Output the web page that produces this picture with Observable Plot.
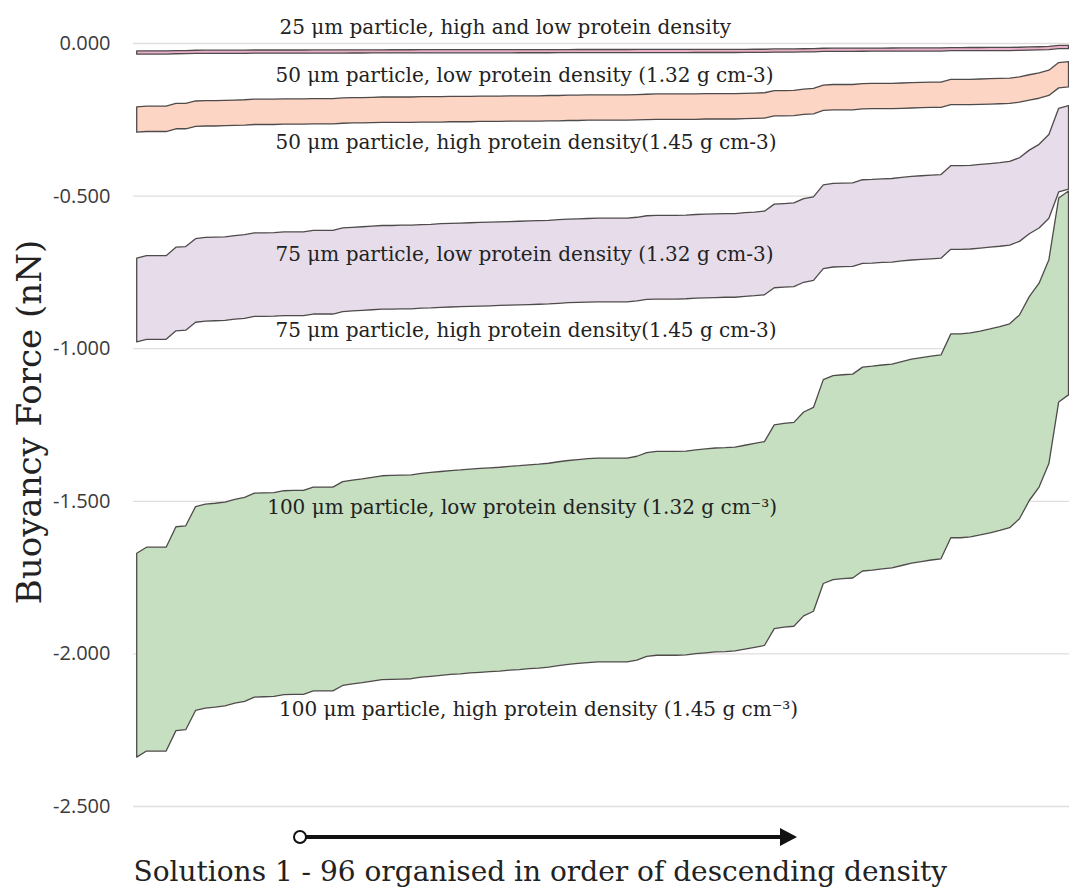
<!DOCTYPE html>
<html><head><meta charset="utf-8">
<script src="https://cdn.jsdelivr.net/npm/d3@7"></script>
<script src="https://cdn.jsdelivr.net/npm/@observablehq/plot@0.6"></script>
<style>
body{margin:0;background:#fff;}
#chart{width:1069px;}
</style></head>
<body><div id="chart"></div>
<script>
// Solutions 1..96 (ordered by descending density)
const solutions = Array.from({length: 96}, (_, k) => k + 1);

// Buoyancy force (nN), low protein density (1.32) and high protein density (1.45)
const low100 = [-1.672,-1.652,-1.652,-1.652,-1.585,-1.582,-1.519,-1.511,-1.508,-1.504,
-1.495,-1.489,-1.475,-1.474,-1.473,-1.467,-1.466,-1.466,-1.455,-1.455,
-1.455,-1.437,-1.432,-1.428,-1.423,-1.418,-1.417,-1.416,-1.415,-1.410,
-1.407,-1.404,-1.401,-1.399,-1.396,-1.394,-1.392,-1.390,-1.387,-1.385,
-1.382,-1.380,-1.377,-1.372,-1.368,-1.365,-1.362,-1.360,-1.360,-1.360,
-1.360,-1.354,-1.342,-1.338,-1.338,-1.338,-1.337,-1.333,-1.330,-1.327,
-1.326,-1.324,-1.318,-1.312,-1.306,-1.251,-1.246,-1.243,-1.209,-1.194,
-1.103,-1.090,-1.087,-1.085,-1.062,-1.059,-1.055,-1.052,-1.044,-1.036,
-1.031,-1.026,-1.022,-0.953,-0.953,-0.950,-0.944,-0.937,-0.929,-0.920,
-0.891,-0.831,-0.787,-0.710,-0.508,-0.485];
const high100 = [-2.340,-2.320,-2.320,-2.320,-2.253,-2.250,-2.187,-2.179,-2.176,-2.172,
-2.163,-2.157,-2.143,-2.142,-2.141,-2.135,-2.134,-2.134,-2.123,-2.123,
-2.123,-2.105,-2.100,-2.096,-2.091,-2.086,-2.085,-2.084,-2.083,-2.078,
-2.075,-2.072,-2.069,-2.067,-2.064,-2.062,-2.060,-2.058,-2.055,-2.053,
-2.050,-2.048,-2.045,-2.040,-2.036,-2.033,-2.030,-2.028,-2.028,-2.028,
-2.028,-2.022,-2.010,-2.006,-2.006,-2.006,-2.005,-2.001,-1.998,-1.995,
-1.994,-1.992,-1.986,-1.980,-1.974,-1.919,-1.914,-1.911,-1.877,-1.862,
-1.771,-1.758,-1.755,-1.753,-1.730,-1.727,-1.723,-1.720,-1.712,-1.704,
-1.699,-1.694,-1.690,-1.621,-1.621,-1.618,-1.612,-1.605,-1.597,-1.588,
-1.559,-1.499,-1.455,-1.378,-1.176,-1.153];
const low75 = [-0.705,-0.697,-0.697,-0.697,-0.669,-0.667,-0.641,-0.637,-0.636,-0.635,
-0.631,-0.628,-0.622,-0.622,-0.621,-0.619,-0.619,-0.619,-0.614,-0.614,
-0.614,-0.606,-0.604,-0.602,-0.600,-0.598,-0.598,-0.597,-0.597,-0.595,
-0.594,-0.592,-0.591,-0.590,-0.589,-0.588,-0.587,-0.586,-0.585,-0.584,
-0.583,-0.582,-0.581,-0.579,-0.577,-0.576,-0.575,-0.574,-0.574,-0.574,
-0.574,-0.571,-0.566,-0.565,-0.565,-0.565,-0.564,-0.562,-0.561,-0.560,
-0.559,-0.559,-0.556,-0.554,-0.551,-0.528,-0.526,-0.524,-0.510,-0.504,
-0.465,-0.460,-0.459,-0.458,-0.448,-0.447,-0.445,-0.444,-0.440,-0.437,
-0.435,-0.433,-0.431,-0.402,-0.402,-0.401,-0.398,-0.395,-0.392,-0.388,
-0.376,-0.351,-0.332,-0.300,-0.214,-0.205];
const high75 = [-0.979,-0.971,-0.971,-0.971,-0.943,-0.941,-0.915,-0.911,-0.910,-0.909,
-0.905,-0.902,-0.896,-0.896,-0.895,-0.893,-0.893,-0.893,-0.888,-0.888,
-0.888,-0.880,-0.878,-0.876,-0.874,-0.872,-0.872,-0.871,-0.871,-0.869,
-0.868,-0.866,-0.865,-0.864,-0.863,-0.862,-0.861,-0.860,-0.859,-0.858,
-0.857,-0.856,-0.855,-0.853,-0.851,-0.850,-0.849,-0.848,-0.848,-0.848,
-0.848,-0.845,-0.840,-0.839,-0.839,-0.839,-0.838,-0.836,-0.835,-0.834,
-0.833,-0.833,-0.830,-0.828,-0.825,-0.802,-0.800,-0.798,-0.784,-0.778,
-0.739,-0.734,-0.733,-0.732,-0.722,-0.721,-0.719,-0.718,-0.714,-0.711,
-0.709,-0.707,-0.705,-0.676,-0.676,-0.675,-0.672,-0.669,-0.666,-0.662,
-0.650,-0.625,-0.606,-0.574,-0.488,-0.479];
const low50 = [-0.209,-0.207,-0.207,-0.207,-0.198,-0.198,-0.190,-0.189,-0.189,-0.188,
-0.187,-0.186,-0.184,-0.184,-0.184,-0.183,-0.183,-0.183,-0.182,-0.182,
-0.182,-0.180,-0.179,-0.179,-0.178,-0.177,-0.177,-0.177,-0.177,-0.176,
-0.176,-0.176,-0.175,-0.175,-0.175,-0.174,-0.174,-0.174,-0.173,-0.173,
-0.173,-0.173,-0.172,-0.172,-0.171,-0.171,-0.170,-0.170,-0.170,-0.170,
-0.170,-0.169,-0.168,-0.167,-0.167,-0.167,-0.167,-0.167,-0.166,-0.166,
-0.166,-0.166,-0.165,-0.164,-0.163,-0.156,-0.156,-0.155,-0.151,-0.149,
-0.138,-0.136,-0.136,-0.136,-0.133,-0.132,-0.132,-0.132,-0.131,-0.130,
-0.129,-0.128,-0.128,-0.119,-0.119,-0.119,-0.118,-0.117,-0.116,-0.115,
-0.111,-0.104,-0.098,-0.089,-0.064,-0.061];
const high50 = [-0.292,-0.290,-0.290,-0.290,-0.281,-0.281,-0.273,-0.272,-0.272,-0.271,
-0.270,-0.269,-0.267,-0.267,-0.267,-0.266,-0.266,-0.266,-0.265,-0.265,
-0.265,-0.263,-0.262,-0.262,-0.261,-0.260,-0.260,-0.260,-0.260,-0.259,
-0.259,-0.259,-0.258,-0.258,-0.258,-0.257,-0.257,-0.257,-0.256,-0.256,
-0.256,-0.256,-0.255,-0.255,-0.254,-0.254,-0.253,-0.253,-0.253,-0.253,
-0.253,-0.252,-0.251,-0.250,-0.250,-0.250,-0.250,-0.250,-0.249,-0.249,
-0.249,-0.249,-0.248,-0.247,-0.246,-0.239,-0.239,-0.238,-0.234,-0.232,
-0.221,-0.219,-0.219,-0.219,-0.216,-0.215,-0.215,-0.215,-0.214,-0.213,
-0.212,-0.211,-0.211,-0.202,-0.202,-0.202,-0.201,-0.200,-0.199,-0.198,
-0.194,-0.187,-0.181,-0.172,-0.147,-0.144];
const low25 = [-0.0261,-0.0258,-0.0258,-0.0258,-0.0248,-0.0247,-0.0237,-0.0236,-0.0236,-0.0235,
-0.0234,-0.0233,-0.0230,-0.0230,-0.0230,-0.0229,-0.0229,-0.0229,-0.0227,-0.0227,
-0.0227,-0.0225,-0.0224,-0.0223,-0.0222,-0.0222,-0.0221,-0.0221,-0.0221,-0.0220,
-0.0220,-0.0219,-0.0219,-0.0219,-0.0218,-0.0218,-0.0218,-0.0217,-0.0217,-0.0216,
-0.0216,-0.0216,-0.0215,-0.0214,-0.0214,-0.0213,-0.0213,-0.0213,-0.0213,-0.0213,
-0.0213,-0.0212,-0.0210,-0.0209,-0.0209,-0.0209,-0.0209,-0.0208,-0.0208,-0.0207,
-0.0207,-0.0207,-0.0206,-0.0205,-0.0204,-0.0195,-0.0195,-0.0194,-0.0189,-0.0187,
-0.0172,-0.0170,-0.0170,-0.0170,-0.0166,-0.0165,-0.0165,-0.0164,-0.0163,-0.0162,
-0.0161,-0.0160,-0.0160,-0.0149,-0.0149,-0.0148,-0.0148,-0.0146,-0.0145,-0.0144,
-0.0139,-0.0130,-0.0123,-0.0111,-0.0079,-0.0076];
const high25 = [-0.0365,-0.0362,-0.0362,-0.0362,-0.0352,-0.0351,-0.0341,-0.0340,-0.0340,-0.0339,
-0.0338,-0.0337,-0.0334,-0.0334,-0.0334,-0.0333,-0.0333,-0.0333,-0.0331,-0.0331,
-0.0331,-0.0329,-0.0328,-0.0327,-0.0326,-0.0326,-0.0325,-0.0325,-0.0325,-0.0324,
-0.0324,-0.0323,-0.0323,-0.0323,-0.0322,-0.0322,-0.0322,-0.0321,-0.0321,-0.0320,
-0.0320,-0.0320,-0.0319,-0.0318,-0.0318,-0.0317,-0.0317,-0.0317,-0.0317,-0.0317,
-0.0317,-0.0316,-0.0314,-0.0313,-0.0313,-0.0313,-0.0313,-0.0312,-0.0312,-0.0311,
-0.0311,-0.0311,-0.0310,-0.0309,-0.0308,-0.0299,-0.0299,-0.0298,-0.0293,-0.0291,
-0.0276,-0.0274,-0.0274,-0.0274,-0.0270,-0.0269,-0.0269,-0.0268,-0.0267,-0.0266,
-0.0265,-0.0264,-0.0264,-0.0253,-0.0253,-0.0252,-0.0252,-0.0250,-0.0249,-0.0248,
-0.0243,-0.0234,-0.0227,-0.0215,-0.0183,-0.0180];

const yTicks = [0, -0.5, -1, -1.5, -2, -2.5];
const bandLabels = [
  "25 μm particle, high and low protein density",
  "50 μm particle, low protein density (1.32 g cm-3)",
  "50 μm particle, high protein density(1.45 g cm-3)",
  "75 μm particle, low protein density (1.32 g cm-3)",
  "75 μm particle, high protein density(1.45 g cm-3)",
  "100 μm particle, low protein density (1.32 g cm⁻³)",
  "100 μm particle, high protein density (1.45 g cm⁻³)"
];
const yTitle = "Buoyancy Force (nN)";
const xTitle = "Solutions 1 - 96 organised in order of descending density";

// ---- build tables ----
const band = (lo, hi) => solutions.map((s, k) => ({s, lo: lo[k], hi: hi[k]}));
const bands = [
  {rows: band(low100, high100), fill: "#c5dfc0"},
  {rows: band(low75, high75), fill: "#e6dcea"},
  {rows: band(low50, high50), fill: "#fdd5c4"},
  {rows: band(low25, high25), fill: "#e9aec8"}
];
// label anchor positions (solution index, force)
const labelPos = [[15.5, 0.053], [15.1, -0.106], [15.1, -0.324], [15.1, -0.691], [15.1, -0.942], [14.25, -1.520], [15.45, -2.182]];
const labels = bandLabels.map((t, k) => ({text: t, x: labelPos[k][0], y: labelPos[k][1]}));

const serif = "DejaVu Serif";
const plot = Plot.plot({
  width: 1069,
  height: 893,
  marginLeft: 133,
  marginRight: 0,
  marginTop: 43,
  marginBottom: 87,
  x: {domain: [1, 96], axis: null, insetLeft: 3.7, insetRight: 0.5},
  y: {domain: [-2.5, 0]},
  style: {background: "#fff"},
  marks: [
    Plot.gridY(yTicks, {stroke: "#e3dddd", strokeOpacity: 1, strokeWidth: 1.3}),
    Plot.axisY(yTicks, {tickSize: 0, tickPadding: 23, tickFormat: d => d.toFixed(3), fontSize: 20, fontFamily: "Open Sans", fill: "#3a3a3a", label: null}),
    ...bands.map(b => Plot.areaY(b.rows, {x: "s", y1: "hi", y2: "lo", fill: b.fill, stroke: "#4f4b4b", strokeWidth: 1.3, strokeLinejoin: "round"})),
    Plot.text(labels, {x: "x", y: "y", text: "text", textAnchor: "start", fontFamily: serif, fontSize: 20, fill: "#222"}),
    Plot.text([yTitle], {frameAnchor: "left", textAnchor: "middle", rotate: -90, dx: -103, dy: -3, fontFamily: serif, fontSize: 34, fill: "#222"}),
    Plot.text([xTitle], {frameAnchor: "bottom-left", textAnchor: "start", lineAnchor: "bottom", dy: 74, fontFamily: serif, fontSize: 28, fill: "#222"})
  ]
});
document.getElementById("chart").appendChild(plot);

// arrow annotation under the plot frame
const svg = d3.select(plot);
const ay = 837;
svg.append("line").attr("x1", 306).attr("x2", 782).attr("y1", ay).attr("y2", ay).attr("stroke", "#111").attr("stroke-width", 4);
svg.append("polygon").attr("points", `797,${ay} 780,${ay - 9} 780,${ay + 9}`).attr("fill", "#111");
svg.append("circle").attr("cx", 300).attr("cy", ay).attr("r", 6).attr("fill", "#fff").attr("stroke", "#111").attr("stroke-width", 2);
</script>
</body></html>
